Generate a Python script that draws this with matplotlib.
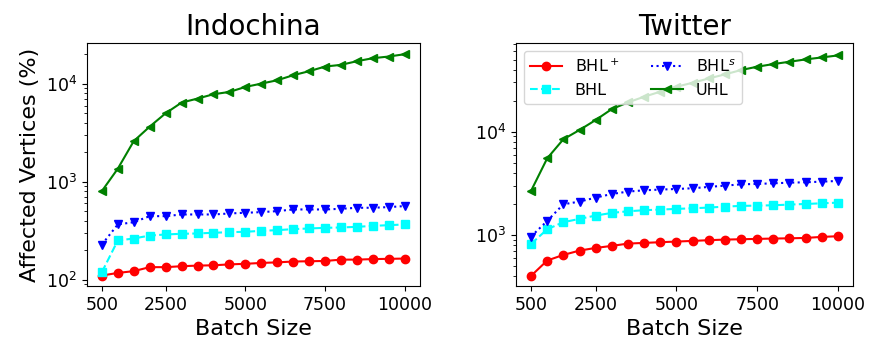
import matplotlib
matplotlib.use("Agg")
import matplotlib.pyplot as plt

batch = [500, 1000, 1500, 2000, 2500, 3000, 3500, 4000, 4500, 5000,
         5500, 6000, 6500, 7000, 7500, 8000, 8500, 9000, 9500, 10000]

indo_bhlp = [110, 117, 122, 134, 134, 137, 139, 140, 143, 145,
             148, 150, 153, 154, 155, 160, 160, 162, 163, 164]
indo_bhl = [119, 251, 263, 282, 289, 294, 296, 301, 305, 308,
            315, 320, 328, 333, 338, 341, 346, 354, 360, 366]
indo_bhls = [228, 366, 386, 445, 445, 463, 463, 463, 474, 482,
             489, 501, 521, 521, 521, 529, 542, 542, 551, 564]
indo_uhl = [802, 1360, 2600, 3660, 5010, 6440, 7080, 7840, 8280, 9310,
            10070, 10900, 12270, 13490, 15040, 15660, 17070, 18320, 19050, 20130]

tw_bhlp = [401, 565, 640, 705, 748, 783, 824, 837, 850, 862,
           875, 889, 901, 908, 915, 922, 927, 935, 957, 971]
tw_bhl = [818, 1134, 1328, 1430, 1540, 1634, 1695, 1734, 1760, 1786,
          1812, 1840, 1880, 1910, 1923, 1937, 1967, 1995, 2024, 2054]
tw_bhls = [964, 1366, 1981, 2102, 2298, 2493, 2627, 2706, 2748, 2787,
           2830, 2917, 3001, 3090, 3118, 3162, 3207, 3235, 3282, 3332]
tw_uhl = [2670, 5520, 8440, 10380, 12970, 16560, 19220, 21800, 24400, 27240,
          29770, 32800, 35870, 39540, 42580, 45190, 47580, 50120, 52390, 54800]

xticks = [500, 2500, 5000, 7500, 10000]

fig = plt.figure(figsize=(8.69, 3.43), dpi=100)
ax1 = fig.add_axes([86.7/869, 1-286/343, (420-86.7)/869, (286-43.3)/343])
ax2 = fig.add_axes([515.7/869, 1-286/343, (853.3-515.7)/869, (286-43.3)/343])

def draw(ax, a, b, c, d, title):
    ax.plot(batch, a, color='red', marker='o', linestyle='-', markersize=6, label='BHL$^+$')
    ax.plot(batch, b, color='cyan', marker='s', linestyle='--', markersize=6, label='BHL')
    ax.plot(batch, c, color='blue', marker='v', linestyle=':', markersize=6, label='BHL$^s$')
    ax.plot(batch, d, color='green', marker='<', linestyle='-', markersize=6, label='UHL')
    ax.set_yscale('log')
    ax.set_xticks(xticks)
    ax.set_xticklabels([str(t) for t in xticks])
    ax.tick_params(labelsize=12.5)
    ax.set_xlabel('Batch Size', fontsize=16)
    ax.set_title(title, fontsize=20)

draw(ax1, indo_bhlp, indo_bhl, indo_bhls, indo_uhl, 'Indochina')
draw(ax2, tw_bhlp, tw_bhl, tw_bhls, tw_uhl, 'Twitter')
ax1.set_ylabel('Affected Vertices (%)', fontsize=16)
ax1.set_ylim(86, 26000)
ax2.set_ylim(320, 71800)
ax2.legend(loc='upper left', ncol=2, fontsize=11.5)

fig.savefig('out.png', dpi=100)
